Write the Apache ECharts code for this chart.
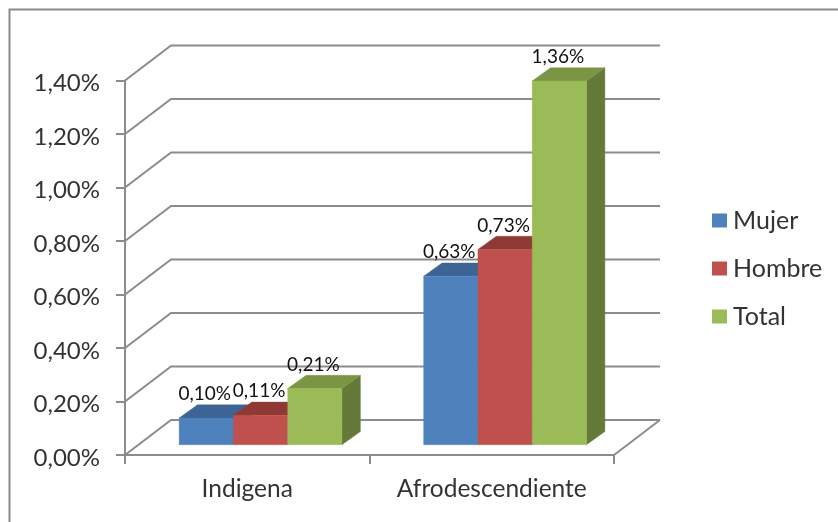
<!DOCTYPE html>
<html>
<head>
<meta charset="utf-8">
<style>html,body{margin:0;padding:0;background:#fff;overflow:hidden}#c{width:838px;height:522px}</style>
<script src="https://cdn.jsdelivr.net/npm/echarts@6/dist/echarts.min.js"></script>
</head>
<body>
<div id="c"></div>
<script>
const categories = ['Indigena', 'Afrodescendiente'];
const mujer = [0.10, 0.63];
const hombre = [0.11, 0.73];
const total = [0.21, 1.36];
const gridTicks = [0, 0.2, 0.4, 0.6, 0.8, 1.0, 1.2, 1.4];

const FONT = 'Lato, "Open Sans", sans-serif';
const WALL = '#8c8c8c';
const fmt = v => v.toFixed(2).replace('.', ',') + '%';

const barW = 0.222, depthX = 18.4, depthY = 13.2, floorY = 10.3, centerShift = 0.0545;

function barSeries(name, values, slot, front, top, side) {
  return {
    name, type: 'custom', coordinateSystem: 'cartesian2d', z: 5 + slot,
    itemStyle: { color: front },
    encode: { x: 0, y: 1 },
    data: values.map((v, i) => [i, v]),
    renderItem(params, api) {
      const band = api.size([1, 0])[0];
      const w = band * barW;
      const c = api.coord([api.value(0), api.value(1)]);
      const base = api.coord([api.value(0), 0]);
      const x0 = c[0] + band * centerShift + (slot - 1.5) * w;
      const x1 = x0 + w;
      const yT = c[1] - floorY, yB = base[1] - floorY;
      const poly = (pts, fill) => ({ type: 'polygon', shape: { points: pts }, style: { fill, stroke: fill, lineWidth: 0.4 } });
      return {
        type: 'group',
        children: [
          poly([[x1, yT], [x1 + depthX, yT - depthY], [x1 + depthX, yB - depthY], [x1, yB]], side),
          poly([[x0, yT], [x0 + depthX, yT - depthY], [x1 + depthX, yT - depthY], [x1, yT]], top),
          poly([[x0, yT], [x1, yT], [x1, yB], [x0, yB]], front),
          { type: 'text', z2: 50, style: { text: fmt(api.value(1)), x: (x0 + x1) / 2 - 1.5, y: yT - 24, align: 'center', verticalAlign: 'middle', font: '19px ' + FONT, fill: '#111' } }
        ]
      };
    }
  };
}

const wallSeries = {
  type: 'custom', coordinateSystem: 'cartesian2d', z: 1, silent: true,
  encode: { x: 0, y: 1 },
  data: gridTicks.map(t => [0, t]),
  renderItem(params, api) {
    const r = params.coordSys;
    const y = api.coord([0, api.value(1)])[1];
    const dx = 46, dy = 35;
    const right = r.x + r.width;
    const children = [{
      type: 'polyline',
      shape: { points: [[r.x, y], [r.x + dx, y - dy], [right + dx, y - dy]] },
      style: { stroke: WALL, lineWidth: 2, fill: null }
    }];
    if (api.value(1) === 0) {
      children.push({
        type: 'polyline',
        shape: { points: [[right + dx, y - dy], [right, y]] },
        style: { stroke: WALL, lineWidth: 2, fill: null }
      });
    }
    return { type: 'group', children };
  }
};

const chart = echarts.init(document.getElementById('c'), null, { renderer: 'canvas' });
chart.setOption({
  animation: false,
  backgroundColor: '#fff',
  graphic: [{
    type: 'rect', silent: true,
    shape: { x: 9.5, y: 9.5, width: 900, height: 600 },
    style: { fill: 'none', stroke: '#8a8a8a', lineWidth: 2 }
  }],
  grid: { left: 125, top: 80.5, width: 489, height: 374.5 },
  legend: {
    orient: 'vertical', left: 707, top: 203,
    data: ['Mujer', 'Hombre', 'Total'],
    icon: 'rect', itemWidth: 15, itemHeight: 14, itemGap: 23,
    textStyle: { fontFamily: FONT, fontSize: 25, lineHeight: 24, color: '#333', padding: [0, 0, 0, 1] }
  },
  xAxis: {
    type: 'category', data: categories,
    axisLine: { lineStyle: { color: WALL, width: 2 } },
    axisTick: { show: true, length: 9, lineStyle: { color: WALL, width: 2 } },
    axisLabel: { fontFamily: FONT, fontSize: 24.5, color: '#333', margin: 22, interval: 0, hideOverlap: false, width: 230, overflow: 'none' }
  },
  yAxis: {
    type: 'value', min: 0, max: 1.4, interval: 0.2,
    splitLine: { show: false },
    axisLine: { show: true, lineStyle: { color: WALL, width: 2 } },
    axisTick: { show: true, length: 9, lineStyle: { color: WALL, width: 2 } },
    axisLabel: { fontFamily: FONT, fontSize: 24, color: '#333', margin: 25, verticalAlign: 'top', lineHeight: 6, hideOverlap: false, formatter: v => fmt(v) }
  },
  series: [
    wallSeries,
    barSeries('Mujer', mujer, 0, '#4F81BD', '#3C6595', '#37577F'),
    barSeries('Hombre', hombre, 1, '#C0504D', '#8F3936', '#7F3431'),
    barSeries('Total', total, 2, '#9BBB59', '#7B9544', '#657A38')
  ]
});
</script>
</body>
</html>
